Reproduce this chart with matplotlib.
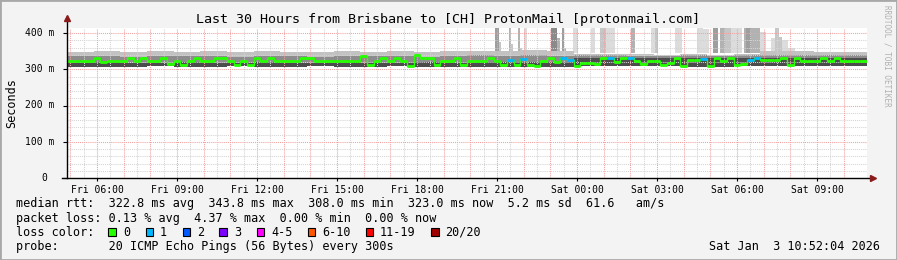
import matplotlib
matplotlib.use("Agg")
import matplotlib.pyplot as plt
from matplotlib.patches import Rectangle
import numpy as np

W, H = 897, 260

# time axis: hours since Fri 00:00, window is the last 30 hours
t_start = 4.875
t_end = 34.875

# median rtt (ms), one value per 15 minutes
median_ms = [324, 324, 324, 323, 332, 320, 323, 323, 323, 332,
             323, 332, 322, 323, 332, 314, 322, 312, 322, 331,
             322, 322, 331, 330, 322, 313, 322, 312, 330, 323,
             331, 323, 323, 323, 323, 331, 331, 323, 323, 323,
             323, 323, 323, 323, 337, 311, 323, 331, 323, 331,
             323, 310, 340, 331, 331, 313, 323, 323, 331, 311,
             323, 323, 322, 332, 324, 312, 326, 312, 328, 313,
             308, 322, 332, 320, 330, 326, 308, 316, 317, 314,
             331, 330, 320, 331, 330, 323, 314, 322, 323, 312,
             318, 331, 308, 325, 325, 329, 310, 330, 323, 330,
             313, 314, 326, 331, 325, 325, 325, 331, 313, 331,
             324, 324, 324, 331, 324, 331, 324, 324, 324, 324]

# lost pings (out of 20) per 15 minutes
loss = [0] * 120
for i in [66, 68, 74, 75, 81, 84, 95, 102, 103]:
    loss[i] = 1

# smoke band per hour (ms): max ping, upper, lower quartile top, min ping
smoke_hi = [348, 350, 347, 349, 348, 350, 347, 349, 348, 347,
            349, 348, 350, 348, 349, 351, 350, 352, 350, 341,
            342, 341, 340, 341, 340, 341, 350, 349, 348, 347]
smoke_up = [336, 337, 335, 337, 336, 337, 335, 336, 337, 335,
            336, 337, 336, 335, 337, 338, 337, 339, 337, 338,
            338, 337, 337, 338, 337, 338, 338, 339, 338, 338]
smoke_q = [318, 319, 318, 318, 319, 318, 318, 319, 318, 318,
           319, 318, 318, 319, 318, 320, 320, 320, 320, 331,
           331, 331, 332, 332, 332, 332, 331, 331, 331, 331]
smoke_lo = [307, 307, 307, 308, 307, 307, 308, 307, 307, 308,
            307, 307, 308, 307, 307, 306, 306, 306, 306, 308,
            308, 308, 308, 307, 307, 308, 309, 310, 310, 310]

# outlier pings shooting above the band: start, end, top (ms), pings
spike_start = [20.94, 21.07, 21.45, 21.51, 21.79, 21.87, 22.00, 23.01, 23.26,
               23.44, 23.51, 23.85, 24.51, 24.85, 25.10, 26.01, 26.76, 26.94,
               27.66, 28.51, 28.73, 29.10, 29.35, 29.54, 29.79, 30.26, 30.35,
               30.54, 30.85, 31.26, 31.41, 31.59, 31.69, 31.91]
spike_end = [21.07, 21.16, 21.51, 21.60, 21.87, 21.95, 22.13, 23.26, 23.37,
             23.51, 23.60, 24.04, 24.69, 25.10, 25.44, 26.19, 26.94, 27.04,
             27.94, 28.73, 28.94, 29.29, 29.54, 29.79, 30.19, 30.35, 30.54,
             30.85, 31.10, 31.41, 31.59, 31.69, 31.91, 32.16]
spike_top = [420, 376, 420, 370, 420, 360, 420, 420, 385,
             420, 360, 420, 420, 420, 420, 420, 420, 420,
             420, 420, 412, 420, 420, 420, 420, 420, 420,
             420, 404, 385, 413, 390, 380, 358]
spike_n = [4, 2, 3, 2, 3, 2, 1, 5, 3,
           4, 3, 1, 1, 2, 1, 3, 1, 2,
           1, 1, 1, 4, 3, 2, 1, 3, 4,
           3, 1, 1, 2, 2, 1, 1]

loss_labels = ["0", "1", "2", "3", "4-5", "6-10", "11-19", "20/20"]
loss_colors = ["#26ff00", "#00b8ff", "#0059ff", "#7e00ff",
               "#ff00ff", "#ff5500", "#ff0000", "#a10000"]

xtick_hours = [6, 9, 12, 15, 18, 21, 24, 27, 30, 33]
xtick_labels = ["Fri 06:00", "Fri 09:00", "Fri 12:00", "Fri 15:00", "Fri 18:00",
                "Fri 21:00", "Sat 00:00", "Sat 03:00", "Sat 06:00", "Sat 09:00"]
ytick_vals = [0, 100, 200, 300, 400]
ytick_labels = ["0", "100 m", "200 m", "300 m", "400 m"]

MONO = "DejaVu Sans Mono"


def fx(x):
    return x / W


def fy(y):
    return 1 - y / H


fig = plt.figure(figsize=(W / 100, H / 100), dpi=100, facecolor="#f3f3f3")
ax = fig.add_axes([fx(67), fy(178), 800 / W, (178 - 27.5) / H])
ax.set_facecolor("white")
ax.set_xlim(t_start, t_end)
ax.set_ylim(0, 150.5 / 0.3625)
for s in ax.spines.values():
    s.set_visible(False)

# smoke
edges = t_start + np.arange(len(smoke_hi) + 1)
def stepy(a):
    return list(a) + [a[-1]]
ax.fill_between(edges, stepy(smoke_lo), stepy(smoke_hi), step="post",
                color="#c2c2c2", lw=0, zorder=1)
ax.fill_between(edges, stepy(smoke_lo), stepy(smoke_up), step="post",
                color="#8c8c8c", lw=0, zorder=1.1)
ax.fill_between(edges, stepy(smoke_lo), stepy(smoke_q), step="post",
                color="#4c4c4c", lw=0, zorder=1.2)

# outlier spikes
shades = {1: "#dcdcdc", 2: "#c6c6c6", 3: "#b2b2b2", 4: "#9e9e9e", 5: "#8a8a8a"}
for s0, s1, top, n in zip(spike_start, spike_end, spike_top, spike_n):
    ax.bar(s0, top - 345, width=s1 - s0, bottom=345, align="edge",
           color=shades[n], lw=0, zorder=0.9)

# grid
for h in np.arange(5, 35, 1.0):
    ax.axvline(h - 0.5, color="#d4d4d4", lw=0.75, ls=(0, (1, 1)), zorder=2)
    ax.axvline(h, color="#f4a0a0", lw=0.75, ls=(0, (1, 1)), zorder=2.1)
for v in range(20, 420, 20):
    if v % 100:
        ax.axhline(v, color="#d4d4d4", lw=0.75, ls=(0, (1, 1)), zorder=2)
    else:
        ax.axhline(v, color="#f4a0a0", lw=0.75, ls=(0, (1, 1)), zorder=2.1)

# median line coloured by loss
mt = t_start + 0.25 * np.arange(len(median_ms))
ax.step(list(mt) + [t_end], list(median_ms) + [median_ms[-1]], where="post",
        color="#26ff00", lw=1.0, zorder=3)
ax.hlines(median_ms, mt, mt + 0.25, colors=[loss_colors[l] for l in loss],
          lw=2.0, zorder=3.1)

# axes with arrows
ax.plot([0, 0], [0, 1.04], transform=ax.transAxes, color="black", lw=1,
        clip_on=False, zorder=5)
ax.plot([-0.006, 1.004], [0, 0], transform=ax.transAxes, color="black", lw=1,
        clip_on=False, zorder=5)
ax.plot([0], [1.065], transform=ax.transAxes, marker="^", color="#8b1a1a",
        ms=4, clip_on=False, zorder=6)
ax.plot([1.008], [0], transform=ax.transAxes, marker=">", color="#8b1a1a",
        ms=4, clip_on=False, zorder=6)

ax.set_xticks(xtick_hours)
ax.set_xticklabels(xtick_labels, fontsize=7, family=MONO)
ax.tick_params(axis="x", length=2, pad=3, width=0.8)
ax.set_yticks(ytick_vals)
ax.set_yticklabels([])
ax.tick_params(axis="y", length=3, width=0.8)
for v, lab in zip(ytick_vals, ytick_labels):
    xr = 54 if lab != "0" else 47
    fig.text(fx(xr), fy(178 - v * 0.3625), lab, ha="right", va="center",
             fontsize=7, family=MONO)

fig.text(fx(12), fy(103), "Seconds", rotation=90, ha="center", va="center",
         fontsize=8.5, family=MONO)
fig.text(fx(448), fy(23.5), "Last 30 Hours from Brisbane to [CH] ProtonMail [protonmail.com]",
         ha="center", va="baseline", fontsize=9.6, family=MONO)
fig.text(fx(887), fy(5), "RRDTOOL / TOBI OETIKER", rotation=270, ha="center",
         va="top", fontsize=5.5, family=MONO, color="#b0b0b0")

# legend block
fig.text(fx(16), fy(207.5),
         "median rtt:  322.8 ms avg  343.8 ms max  308.0 ms min  323.0 ms now  5.2 ms sd  61.6   am/s",
         ha="left", va="baseline", fontsize=8.5, family=MONO)
fig.text(fx(16), fy(221.7),
         "packet loss: 0.13 % avg  4.37 % max  0.00 % min  0.00 % now",
         ha="left", va="baseline", fontsize=8.5, family=MONO)
fig.text(fx(16), fy(235.8), "loss color:", ha="left", va="baseline",
         fontsize=8.5, family=MONO)
box_x = [108, 145.7, 182.7, 219.3, 256.7, 307.7, 365.7, 431]
text_x = [123.3, 160, 197.3, 234, 271.7, 322.7, 380, 445]
for bx, tx, lab, col in zip(box_x, text_x, loss_labels, loss_colors):
    fig.patches.append(Rectangle((fx(bx), fy(235.5)), 7.5 / W, 7.5 / H,
                                 transform=fig.transFigure, facecolor=col,
                                 edgecolor="black", lw=0.8))
    fig.text(fx(tx), fy(235.8), lab, ha="left", va="baseline", fontsize=8.5,
             family=MONO)
fig.text(fx(16), fy(250), "probe:       20 ICMP Echo Pings (56 Bytes) every 300s",
         ha="left", va="baseline", fontsize=8.5, family=MONO)
fig.text(fx(880), fy(250), "Sat Jan  3 10:52:04 2026", ha="right",
         va="baseline", fontsize=8.5, family=MONO)

# image frame
fig.patches.append(Rectangle((0, 0), 1, 1, transform=fig.transFigure,
                             fill=False, edgecolor="#a8a8a8", lw=2))

fig.savefig("out.png", dpi=100, facecolor=fig.get_facecolor())
